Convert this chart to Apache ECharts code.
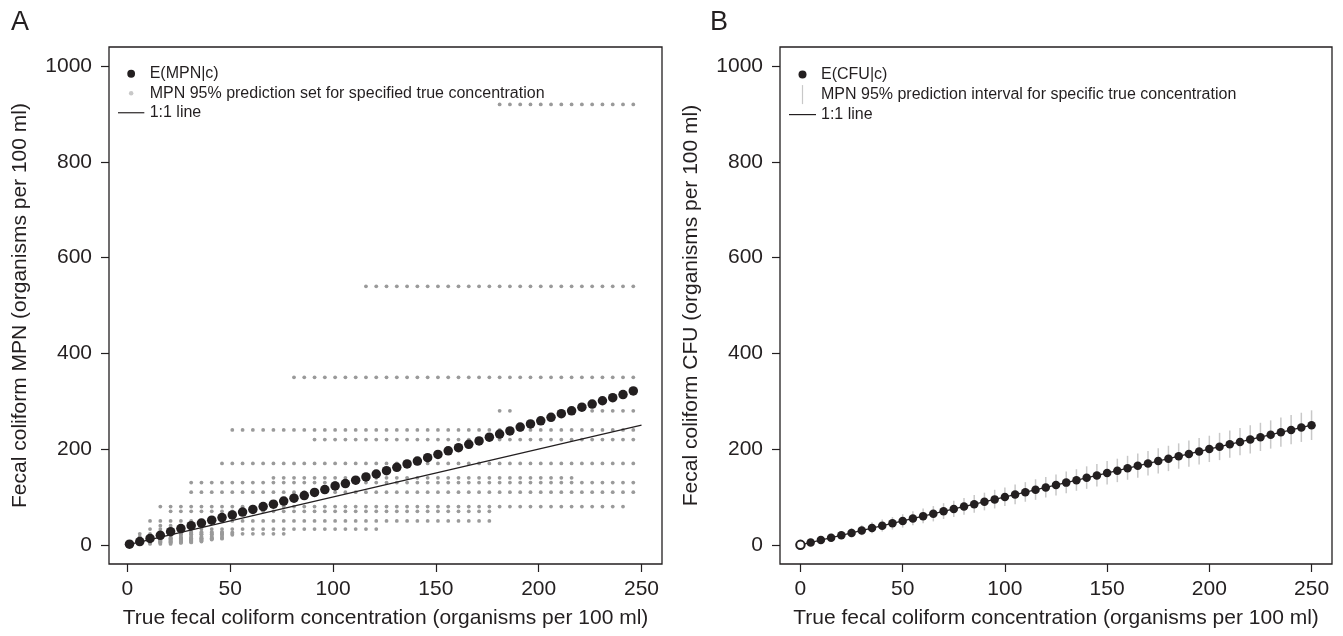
<!DOCTYPE html>
<html>
<head>
<meta charset="utf-8">
<script src="https://cdn.jsdelivr.net/npm/echarts@6/dist/echarts.min.js"></script>
<style>
  * { margin: 0; padding: 0; }
  #chart { width: 1343px; height: 636px; background: #fff; }
</style>
</head>
<body>
<div id="chart"></div>
<script>
// ---- panel A: MPN ----
var concA = [1, 6, 11, 16, 21, 26, 31, 36, 41, 46, 51, 56, 61, 66, 71, 76, 81, 86, 91, 96,
  101, 106, 111, 116, 121, 126, 131, 136, 141, 146, 151, 156, 161, 166, 171, 176, 181, 186, 191, 196,
  201, 206, 211, 216, 221, 226, 231, 236, 241, 246]
var expectedMPN = [1.5, 6.8, 13.5, 20, 27.5, 34, 40, 45.5, 51.5, 57, 62.5, 68.5, 74, 80, 85, 91.5, 97.5, 103, 109.5, 115.5,
  123, 128, 135, 142, 148, 155, 162, 169, 175, 182, 189, 196.5, 203, 210, 217, 225, 231.5, 238, 246, 252.5,
  259, 266.5, 274, 280, 287.5, 294, 301, 307.5, 314, 321.5]
// prediction set rows: MPN value, first and last true concentration where it shows
var setLevel = [920, 540, 350, 280, 280, 240, 220, 170, 140, 130, 110, 80, 70, 50, 40, 33, 27, 26, 23, 22, 21, 17, 15, 14, 13, 12, 11, 9, 8, 7, 6, 5, 4, 2]
var setFrom  = [181, 116, 81, 181, 226, 51, 91, 46, 71, 31, 31, 16, 21, 11, 16, 11, 21, 16, 6, 16, 16, 6, 16, 11, 11, 11, 11, 11, 11, 6, 6, 6, 6, 6]
var setTo    = [246, 246, 246, 186, 246, 246, 246, 246, 216, 246, 246, 241, 176, 176, 36, 121, 46, 51, 76, 46, 51, 46, 41, 46, 46, 41, 41, 36, 36, 36, 31, 31, 26, 21]

// ---- panel B: CFU ----
var concB = [0, 5, 10, 15, 20, 25, 30, 35, 40, 45, 50, 55, 60, 65, 70, 75, 80, 85, 90, 95, 100,
  105, 110, 115, 120, 125, 130, 135, 140, 145, 150, 155, 160, 165, 170, 175, 180, 185, 190, 195, 200,
  205, 210, 215, 220, 225, 230, 235, 240, 245, 250]
var expectedCFU = [0, 5, 10, 15, 20, 25, 30, 35, 40, 45, 50, 55, 60, 65, 70, 75, 80, 85, 90, 95, 100,
  105, 110, 115, 120, 125, 130, 135, 140, 145, 150, 155, 160, 165, 170, 175, 180, 185, 190, 195, 200,
  205, 210, 215, 220, 225, 230, 235, 240, 245, 250]
var intervalLow = [0, 1, 4, 8, 12, 16, 20, 24, 28, 32, 36, 41, 45, 49, 54, 58, 63, 67, 72, 76, 81,
  85, 90, 94, 99, 103, 108, 113, 117, 122, 126, 131, 136, 140, 145, 149, 154, 159, 163, 168, 173,
  177, 182, 187, 191, 196, 201, 205, 210, 215, 219]
var intervalHigh = [0, 10, 17, 23, 29, 35, 41, 47, 53, 58, 64, 70, 76, 81, 87, 92, 98, 104, 109, 115, 120,
  126, 131, 137, 142, 147, 153, 158, 164, 169, 175, 180, 186, 191, 196, 202, 207, 212, 218, 223, 228,
  234, 239, 244, 250, 255, 260, 266, 271, 276, 281]

var xTicks = [0, 50, 100, 150, 200, 250]
var yTicks = [0, 200, 400, 600, 800, 1000]

var ink = '#231f20'
var font = "'Liberation Sans', Arial, Helvetica, sans-serif"

var setPoints = []
for (var r = 0; r < setLevel.length; r++) {
  concA.forEach(function (c) {
    if (c >= setFrom[r] && c <= setTo[r]) setPoints.push([c, setLevel[r]])
  })
}

var chart = echarts.init(document.getElementById('chart'), null, { renderer: 'canvas' })

function plain(v) { return String(v) }

function xAxisFor(idx, min, max) {
  return {
    gridIndex: idx, type: 'value', min: min, max: max,
    axisLine: { show: false, onZero: false },
    axisTick: { show: true, length: 8, customValues: xTicks, lineStyle: { color: ink, width: 1.2 } },
    axisLabel: { customValues: xTicks, formatter: plain, fontSize: 21, color: ink, margin: 15, fontFamily: font },
    splitLine: { show: false },
    name: 'True fecal coliform concentration (organisms per 100 ml)',
    nameLocation: 'middle', nameGap: 44,
    nameTextStyle: { fontSize: 21, color: ink, fontFamily: font }
  }
}
function yAxisFor(idx, name) {
  return {
    gridIndex: idx, type: 'value', min: -40, max: 1040,
    axisLine: { show: false, onZero: false },
    axisTick: { show: true, length: 8, customValues: yTicks, lineStyle: { color: ink, width: 1.2 } },
    axisLabel: { customValues: yTicks, formatter: plain, fontSize: 21, color: ink, margin: 17, fontFamily: font },
    splitLine: { show: false },
    name: name, nameLocation: 'middle', nameGap: 78,
    nameTextStyle: { fontSize: 21, color: ink, fontFamily: font }
  }
}

var blackDot = 'path://M0,0M27,20M9.5,10A4,4,0,1,1,17.5,10A4,4,0,1,1,9.5,10Z'
var grayDot = 'path://M0,0M27,20M11.2,10A2.3,2.3,0,1,1,15.8,10A2.3,2.3,0,1,1,11.2,10Z'
var grayBar = 'path://M0,0M27,20M12.9,0.5L14.1,0.5L14.1,19.5L12.9,19.5Z'
var lineIcon = 'path://M0,0M27,20M0,9.4L27,9.4L27,10.6L0,10.6Z'

var option = {
  animation: false,
  backgroundColor: '#fff',
  textStyle: { fontFamily: font },
  title: [
    { text: 'A', left: 6, top: 4, textStyle: { fontSize: 27, fontWeight: 'normal', color: ink, fontFamily: font } },
    { text: 'B', left: 705, top: 4, textStyle: { fontSize: 27, fontWeight: 'normal', color: ink, fontFamily: font } }
  ],
  grid: [
    { left: 109, top: 47, width: 553, height: 517, show: true, borderColor: ink, borderWidth: 1.3 },
    { left: 780, top: 47, width: 552, height: 517, show: true, borderColor: ink, borderWidth: 1.3 }
  ],
  legend: [
    {
      orient: 'vertical', left: 118, top: 64, padding: 0, itemGap: 0,
      itemWidth: 27, itemHeight: 19.5, selectedMode: false,
      textStyle: { fontSize: 16, color: ink, fontFamily: font },
      data: [
        { name: 'E(MPN|c)', icon: blackDot, itemStyle: { color: ink, opacity: 1 } },
        { name: 'MPN 95% prediction set for specified true concentration', icon: grayDot, itemStyle: { color: '#c8c8c8', opacity: 1 } },
        { name: '1:1 line', icon: lineIcon, itemStyle: { color: ink, opacity: 1 } }
      ]
    },
    {
      orient: 'vertical', left: 789, top: 64.6, padding: 0, itemGap: 0,
      itemWidth: 27, itemHeight: 20, selectedMode: false,
      textStyle: { fontSize: 16, color: ink, fontFamily: font },
      data: [
        { name: 'E(CFU|c)', icon: blackDot, itemStyle: { color: ink, opacity: 1 } },
        { name: 'MPN 95% prediction interval for specific true concentration', icon: grayBar, itemStyle: { color: '#c8c8c8', opacity: 1 } },
        { name: '1:1 line ', icon: lineIcon, itemStyle: { color: ink, opacity: 1 } }
      ]
    }
  ],
  xAxis: [xAxisFor(0, -8.96, 259.96), xAxisFor(1, -10, 260)],
  yAxis: [
    yAxisFor(0, 'Fecal coliform MPN (organisms per 100 ml)'),
    yAxisFor(1, 'Fecal coliform CFU (organisms per 100 ml)')
  ],
  series: [
    {
      name: 'MPN 95% prediction set for specified true concentration',
      type: 'scatter', xAxisIndex: 0, yAxisIndex: 0, z: 1,
      symbolSize: 3.8, itemStyle: { color: '#9a9a9a', opacity: 1 },
      data: setPoints
    },
    {
      name: '1:1 line', type: 'line', xAxisIndex: 0, yAxisIndex: 0, z: 2,
      symbol: 'none', itemStyle: { color: ink }, lineStyle: { color: ink, width: 1.3 },
      data: [[concA[0], concA[0]], [250, 250]]
    },
    {
      name: 'E(MPN|c)', type: 'scatter', xAxisIndex: 0, yAxisIndex: 0, z: 3,
      symbolSize: 9.5, itemStyle: { color: ink, opacity: 1 },
      data: concA.map(function (c, i) { return [c, expectedMPN[i]] })
    },
    {
      name: 'MPN 95% prediction interval for specific true concentration',
      type: 'custom', xAxisIndex: 1, yAxisIndex: 1, z: 1,
      itemStyle: { color: '#c8c8c8' },
      encode: { x: 0, y: [1, 2] },
      data: concB.map(function (c, i) { return [c, intervalLow[i], intervalHigh[i]] }),
      renderItem: function (params, api) {
        var p1 = api.coord([api.value(0), api.value(1)])
        var p2 = api.coord([api.value(0), api.value(2)])
        return {
          type: 'line',
          shape: { x1: p1[0], y1: p1[1], x2: p2[0], y2: p2[1] },
          style: { stroke: '#c8c8c8', lineWidth: 1.5 }
        }
      }
    },
    {
      name: '1:1 line ', type: 'line', xAxisIndex: 1, yAxisIndex: 1, z: 2,
      symbol: 'none', itemStyle: { color: ink }, lineStyle: { color: ink, width: 1.3 },
      data: [[0, 0], [250, 250]]
    },
    {
      name: 'E(CFU|c)', type: 'scatter', xAxisIndex: 1, yAxisIndex: 1, z: 3,
      symbolSize: 8.5, itemStyle: { color: ink, opacity: 1 },
      data: concB.map(function (c, i) {
        if (i === 0) return { value: [c, expectedCFU[i]], itemStyle: { color: '#fff', borderColor: ink, borderWidth: 2 } }
        return [c, expectedCFU[i]]
      })
    }
  ]
}

chart.setOption(option)
window.addEventListener('resize', chart.resize)
</script>
</body>
</html>
